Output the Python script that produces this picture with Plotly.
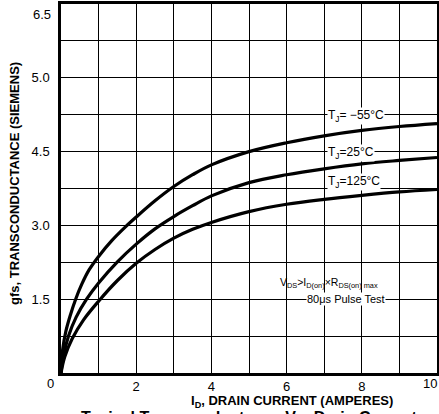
import plotly.graph_objects as go

# Drain current (A) sample points and transconductance (S) for each junction temperature
id_m55 = [0.0, 0.04, 0.13, 0.25, 0.39, 0.55, 0.75, 1.0, 1.35, 1.7, 2.0, 2.5, 3.0, 3.5, 4.0, 5.0, 6.0, 7.0, 8.0, 9.0, 10.0]
gfs_m55 = [0.0, 0.45, 0.85, 1.18, 1.5, 1.8, 2.1, 2.37, 2.69, 2.96, 3.17, 3.5, 3.79, 4.03, 4.23, 4.5, 4.68, 4.82, 4.93, 5.01, 5.07]

id_25 = [0.0, 0.06, 0.2, 0.4, 0.68, 1.0, 1.5, 2.0, 2.5, 3.0, 3.5, 4.0, 5.0, 6.0, 7.0, 8.0, 9.0, 10.0]
gfs_25 = [0.0, 0.33, 0.75, 1.13, 1.5, 1.83, 2.26, 2.62, 2.93, 3.18, 3.4, 3.6, 3.87, 4.03, 4.15, 4.25, 4.32, 4.38]

id_125 = [0.0, 0.1, 0.3, 0.6, 1.0, 1.5, 2.0, 2.5, 3.0, 3.5, 4.0, 5.0, 6.0, 7.0, 8.0, 9.0, 10.0]
gfs_125 = [0.0, 0.33, 0.7, 1.08, 1.46, 1.88, 2.23, 2.51, 2.74, 2.92, 3.06, 3.28, 3.43, 3.53, 3.61, 3.68, 3.73]

x_tickvals = [2, 4, 6, 8]
x_ticktext = ["2", "4", "6", "8"]
x_end_label = "10"
y_tickvals = [1.5, 3.0, 4.5, 6.0]
y_ticktext = ["1.5", "3.0", "4.5", "5.0"]
y_top_label = "6.5"
origin_label = "0"

FONT = "Liberation Sans, Arial, Helvetica, sans-serif"

fig = go.Figure()
for xs, ys in [(id_m55, gfs_m55), (id_25, gfs_25), (id_125, gfs_125)]:
    fig.add_trace(go.Scatter(x=xs, y=ys, mode="lines",
                             line=dict(color="black", width=3.2, shape="spline", smoothing=1.0),
                             showlegend=False, hoverinfo="skip"))

axis_common = dict(showgrid=True, gridcolor="black", gridwidth=1.4,
                   showline=True, linecolor="black", linewidth=2.5, mirror=True,
                   zeroline=False, ticks="", automargin=False,
                   tickfont=dict(family=FONT, size=13, color="black"))

fig.update_xaxes(range=[0, 10], tickmode="array", tickvals=x_tickvals, ticktext=x_ticktext,
                 minor=dict(tickmode="linear", tick0=0, dtick=1, showgrid=True,
                            gridcolor="black", gridwidth=1.4, ticks=""),
                 **axis_common)
fig.update_yaxes(range=[0, 7.5], tickmode="array", tickvals=y_tickvals, ticktext=y_ticktext,
                 ticklabelstandoff=6,
                 minor=dict(tickmode="linear", tick0=0, dtick=0.75, showgrid=True,
                            gridcolor="black", gridwidth=1.4, ticks=""),
                 **axis_common)

tick_font = dict(family=FONT, size=13, color="black")
anns = []
# corner zero, right end x label, top y label
anns.append(dict(x=-(61 - 50) / 376, y=-(383 - 373) / 369, xref="paper", yref="paper", text=origin_label,
                 showarrow=False, xanchor="center", yanchor="middle", font=tick_font))
anns.append(dict(x=(439 - 61) / 376, y=-(383 - 373) / 369, xref="paper", yref="paper", text=x_end_label,
                 showarrow=False, xanchor="right", yanchor="middle", font=tick_font))
anns.append(dict(x=-(61 - 53) / 376, y=(373 - 14) / 369, xref="paper", yref="paper", text=y_top_label,
                 showarrow=False, xanchor="right", yanchor="middle", font=tick_font))

lab_font = dict(family=FONT, size=12, color="black")
for txt, yv in [("T<sub>J</sub>= −55°C", 5.22), ("T<sub>J</sub>=25°C", 4.48), ("T<sub>J</sub>=125°C", 3.89)]:
    anns.append(dict(x=7.07, y=yv, xref="x", yref="y", text=txt, showarrow=False,
                     xanchor="left", yanchor="middle", bgcolor="white", borderpad=0, font=lab_font))

anns.append(dict(x=7.13, y=1.83, xref="x", yref="y",
                 text="V<sub>DS</sub>>I<sub>D(on)</sub>×R<sub>DS(on) max</sub>", showarrow=False,
                 xanchor="center", yanchor="middle", font=dict(family=FONT, size=10.5, color="black")))
anns.append(dict(x=7.58, y=1.51, xref="x", yref="y", text="80μs Pulse Test", showarrow=False,
                 xanchor="center", yanchor="middle", bgcolor="white", borderpad=0,
                 font=dict(family=FONT, size=11, color="black")))

# axis titles
anns.append(dict(x=-(61 - 14) / 376, y=(373 - 184) / 369, xref="paper", yref="paper",
                 text="<b>gfs, TRANSCONDUCTANCE (SIEMENS)</b>",
                 textangle=-90, showarrow=False, xanchor="center", yanchor="middle",
                 font=dict(family=FONT, size=13, color="black")))
anns.append(dict(x=(292 - 61) / 376, y=(373 - 401) / 369, xref="paper", yref="paper",
                 text="<b>I<sub>D</sub>, DRAIN CURRENT (AMPERES)</b>", showarrow=False,
                 xanchor="center", yanchor="middle", font=dict(family=FONT, size=13, color="black")))
anns.append(dict(x=(249 - 61) / 376, y=(373 - 417) / 369, xref="paper", yref="paper",
                 text="<b>Typical Transconductance Vs. Drain Current</b>", showarrow=False,
                 xanchor="center", yanchor="middle", font=dict(family=FONT, size=16, color="black")))

fig.update_layout(width=439, height=414, margin=dict(l=61, r=2, t=4, b=41),
                  paper_bgcolor="white", plot_bgcolor="white", annotations=anns,
                  font=dict(family=FONT, color="black"))

fig.write_html("out.html", config={"displayModeBar": False},
               post_script="document.body.style.margin='0';document.body.style.overflow='hidden';")
